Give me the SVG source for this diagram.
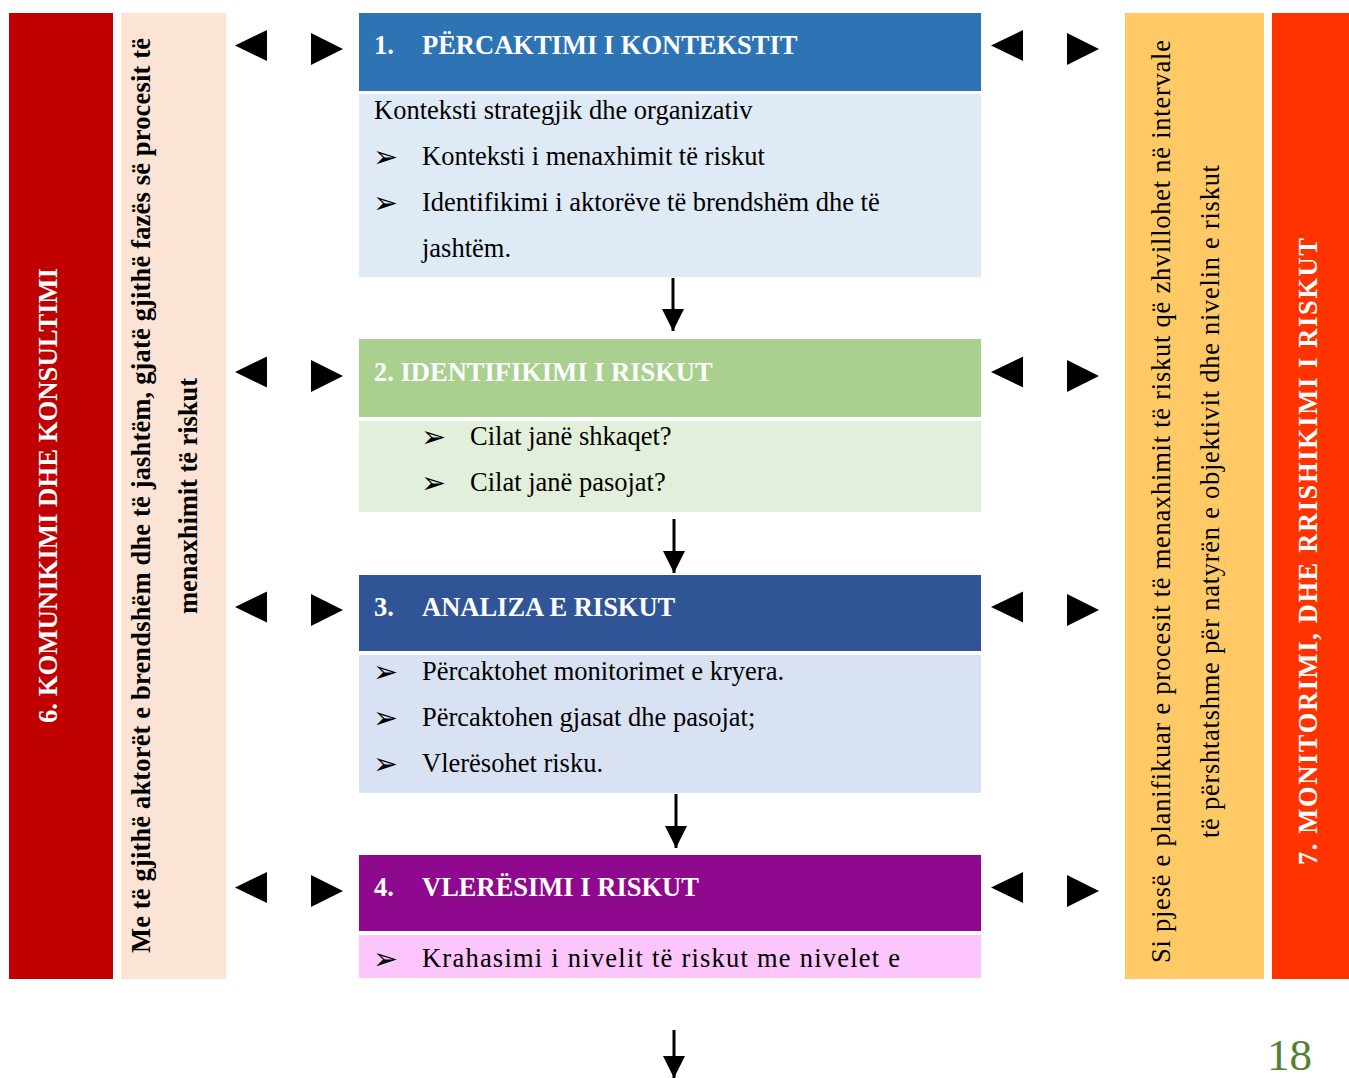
<svg xmlns="http://www.w3.org/2000/svg" width="1349" height="1078" viewBox="0 0 1349 1078">
<style>
.hd{font-family:"Liberation Serif","Times New Roman",serif;font-weight:bold;font-size:26.5px;fill:#ffffff}
.bd{font-family:"Liberation Serif","Times New Roman",serif;font-size:26.5px;fill:#000000}
.bdb{font-family:"Liberation Serif","Times New Roman",serif;font-weight:bold;font-size:26.5px;fill:#000000}
.bl{font-family:"DejaVu Sans",sans-serif;font-size:30px;fill:#000000}
.tri{fill:#000000}
.conn{stroke:#000000;stroke-width:3;fill:none}
</style>
<defs>
<path id="tl" d="M0,0 L32,-15.5 L32,15.5 Z"/>
<path id="tr" d="M0,-16 L32,0 L0,16 Z"/>
<marker id="ah" viewBox="0 0 22 22" refX="22" refY="11" markerWidth="22" markerHeight="22" markerUnits="userSpaceOnUse" orient="auto">
<path d="M0,0 L22,11 L0,22 Z" fill="#000000"/>
</marker>
</defs>
<rect width="1349" height="1078" fill="#ffffff"/>

<g id="col-komunikimi">
<rect x="9" y="13" width="104" height="966" fill="#C00000"/>
<text class="hd" transform="translate(57,723) rotate(-90)" textLength="455" lengthAdjust="spacingAndGlyphs">6. KOMUNIKIMI DHE KONSULTIMI</text>
</g>

<g id="col-aktoret">
<rect x="121" y="13" width="105" height="966" fill="#FBE4D5"/>
<text class="bdb" transform="translate(150,953) rotate(-90)" textLength="915" lengthAdjust="spacing">Me të gjithë aktorët e brendshëm dhe të jashtëm,  gjatë gjithë fazës së procesit të</text>
<text class="bdb" transform="translate(197,614) rotate(-90)" textLength="236" lengthAdjust="spacing">menaxhimit të riskut</text>
</g>

<g id="col-planifikuar">
<rect x="1125" y="13" width="139" height="966" fill="#FFCA66"/>
<text class="bd" transform="translate(1170,963) rotate(-90)" textLength="923" lengthAdjust="spacing">Si pjesë e planifikuar e procesit të menaxhimit të riskut që zhvillohet në intervale</text>
<text class="bd" transform="translate(1219,838) rotate(-90)" textLength="673" lengthAdjust="spacing">të përshtatshme për natyrën e objektivit dhe nivelin e riskut</text>
</g>

<g id="col-monitorimi">
<rect x="1272" y="13" width="77" height="966" fill="#FF3300"/>
<text class="hd" font-size="28" transform="translate(1317,865) rotate(-90)" textLength="627" lengthAdjust="spacing">7. MONITORIMI, DHE RRISHIKIMI I RISKUT</text>
</g>

<g id="box1">
<rect x="359" y="13" width="622" height="78" fill="#2E74B5"/>
<rect x="359" y="94" width="622" height="183" fill="#DEEAF6"/>
<text class="hd" x="374" y="54">1.</text>
<text class="hd" x="422" y="54">PËRCAKTIMI I KONTEKSTIT</text>
<text class="bd" x="374" y="119">Konteksti strategjik dhe organizativ</text>
<text class="bl" x="373" y="167">➢</text>
<text class="bd" x="422" y="165">Konteksti i menaxhimit të riskut</text>
<text class="bl" x="373" y="213">➢</text>
<text class="bd" x="422" y="211">Identifikimi i aktorëve të brendshëm dhe të</text>
<text class="bd" x="422" y="257">jashtëm.</text>
</g>

<g id="box2">
<rect x="359" y="339" width="622" height="78" fill="#A9D08E"/>
<rect x="359" y="421" width="622" height="91" fill="#E2EFDA"/>
<text class="hd" x="374" y="381">2. IDENTIFIKIMI I RISKUT</text>
<text class="bl" x="421" y="447">➢</text>
<text class="bd" x="470" y="445">Cilat janë shkaqet?</text>
<text class="bl" x="421" y="493">➢</text>
<text class="bd" x="470" y="491">Cilat janë pasojat?</text>
</g>

<g id="box3">
<rect x="359" y="575" width="622" height="76" fill="#2F5597"/>
<rect x="359" y="655" width="622" height="138" fill="#D9E2F3"/>
<text class="hd" x="374" y="616">3.</text>
<text class="hd" x="422" y="616">ANALIZA E RISKUT</text>
<text class="bl" x="373" y="682">➢</text>
<text class="bd" x="422" y="680">Përcaktohet monitorimet e kryera.</text>
<text class="bl" x="373" y="728">➢</text>
<text class="bd" x="422" y="726">Përcaktohen gjasat dhe pasojat;</text>
<text class="bl" x="373" y="774">➢</text>
<text class="bd" x="422" y="772">Vlerësohet risku.</text>
</g>

<g id="box4">
<rect x="359" y="855" width="622" height="76" fill="#8E098E"/>
<rect x="359" y="935" width="622" height="43" fill="#FCC5FC"/>
<text class="hd" x="374" y="896">4.</text>
<text class="hd" x="422" y="896">VLERËSIMI I RISKUT</text>
<text class="bl" x="373" y="969">➢</text>
<text class="bd" x="422" y="967" textLength="478" lengthAdjust="spacing">Krahasimi i nivelit të riskut me nivelet e</text>
</g>

<g id="connectors">
<line class="conn" x1="673" y1="278" x2="673" y2="331" marker-end="url(#ah)"/>
<line class="conn" x1="674" y1="519" x2="674" y2="573" marker-end="url(#ah)"/>
<line class="conn" x1="676" y1="794" x2="676" y2="848" marker-end="url(#ah)"/>
<line class="conn" x1="674" y1="1030" x2="674" y2="1078" marker-end="url(#ah)"/>
<g class="tri">
<use href="#tl" x="235" y="45.5"/><use href="#tr" x="311" y="49"/>
<use href="#tl" x="991" y="45.5"/><use href="#tr" x="1067" y="49"/>
<use href="#tl" x="235" y="372"/><use href="#tr" x="311" y="376"/>
<use href="#tl" x="991" y="372"/><use href="#tr" x="1067" y="376"/>
<use href="#tl" x="235" y="607"/><use href="#tr" x="311" y="610"/>
<use href="#tl" x="991" y="607"/><use href="#tr" x="1067" y="610"/>
<use href="#tl" x="235" y="887.5"/><use href="#tr" x="311" y="891"/>
<use href="#tl" x="991" y="887.5"/><use href="#tr" x="1067" y="891"/>
</g>
</g>

<text x="1267" y="1070" font-family="Liberation Serif, serif" font-size="45" fill="#548235">18</text>
</svg>
